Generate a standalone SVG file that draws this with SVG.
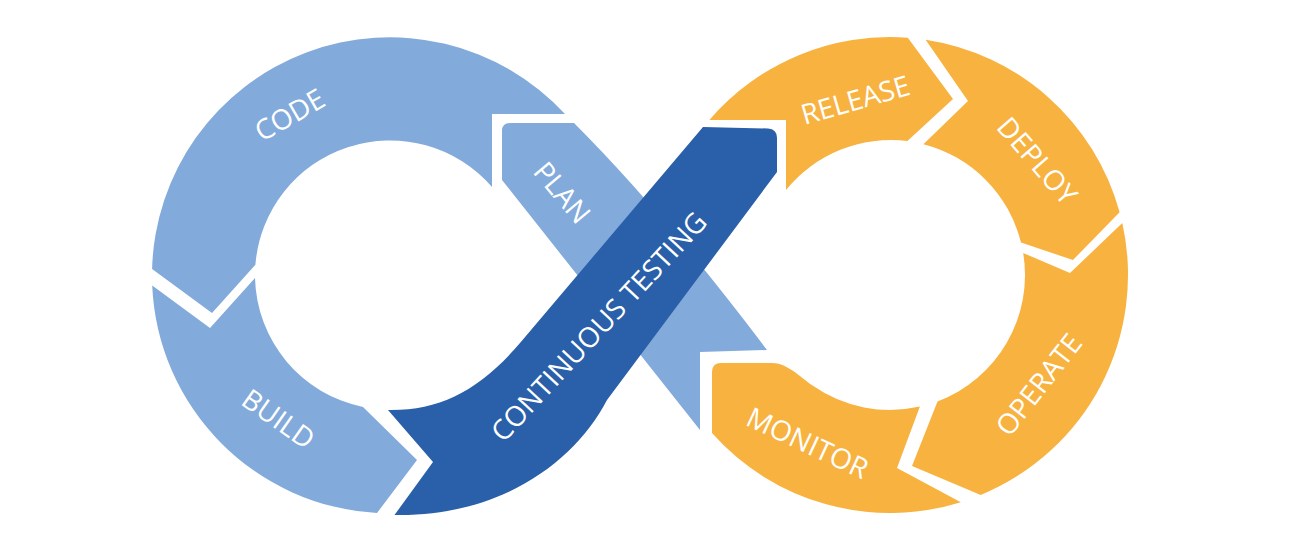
<svg xmlns="http://www.w3.org/2000/svg" width="1300" height="544" viewBox="0 0 1300 544">
  <style>
    .lb { fill: #82aadb; }
    .db { fill: #2a5fa9; }
    .or { fill: #f8b240; }
    .lbl { fill: #ffffff; font-family: "Open Sans", "Liberation Sans", sans-serif; font-size: 28px; text-anchor: middle; dominant-baseline: central; }
  </style>
  <rect x="0" y="0" width="1300" height="544" fill="#ffffff"/>
  <g id="connectors"></g>
  <g id="code">
    <path class="lb" d="M 492,114 L 565,114 A 238 238 0 0 0 152.1,269.1 L 212,313 L 255.4,264.8 A 135 135 0 0 1 492,187 Z"/>
    <text class="lbl" transform="translate(289,114) rotate(-30)">CODE</text>
  </g>
  <g id="build">
    <path class="lb" d="M 152.2,285.6 L 210,328 L 255,278 A 135 135 0 0 0 363,407 L 417,460 L 377,513 A 238 238 0 0 1 152.2,285.6 Z"/>
    <text class="lbl" transform="translate(279,418) rotate(35)">BUILD</text>
  </g>
  <g id="release">
    <path class="or" d="M 786,120 L 709.4,120 A 238 238 0 0 1 907.8,37.7 L 953,99 L 907.4,141.1 A 135 135 0 0 0 786,190 Z"/>
    <text class="lbl" transform="translate(855,99) rotate(-16)">RELEASE</text>
  </g>
  <g id="deploy">
    <path class="or" d="M 925.6,39.7 A 238 238 0 0 1 1119.6,212.2 L 1073,260 L 1021,242.6 A 135 135 0 0 0 923.4,144.2 L 968,101 Z"/>
    <text class="lbl" transform="translate(1038,160) rotate(49)">DEPLOY</text>
  </g>
  <g id="operate">
    <path class="or" d="M 1122.3,223.1 A 238 238 0 0 1 980.7,495 L 912,466 L 937.5,401.4 A 135 135 0 0 0 1023.2,253 L 1070,273 Z"/>
    <text class="lbl" transform="translate(1038,384) rotate(-52)">OPERATE</text>
  </g>
  <g id="monitor">
    <path class="or" d="M 712,372 Q 712,363 721,363 L 772,363 C 787,363 800.3,377 812.6,385.6 A 135 135 0 0 0 919.9,406.6 L 897,468 L 960.8,502.2 A 238 238 0 0 1 712,433 Z"/>
    <text class="lbl" transform="translate(808,442) rotate(25)">MONITOR</text>
  </g>
  <g id="plan">
    <path class="lb" d="M 502,180 L 502,131 Q 502,123 510,123 L 574,123 Q 663,212 767,350 L 700,352 L 700,430 Z"/>
    <text class="lbl" transform="translate(563,192) rotate(50)">PLAN</text>
  </g>
  <g id="continuous-testing">
    <path class="db" d="M 703,127 L 768,128.5 Q 777,129 777,138 L 777,172 L 607,400 C 575,462 500,517 394.5,515 L 433,462 L 388,410 C 440,411 480,390 520,343 L 703,127 Z"/>
    <text class="lbl" transform="translate(598,326) rotate(-47)">CONTINUOUS TESTING</text>
  </g>
</svg>
